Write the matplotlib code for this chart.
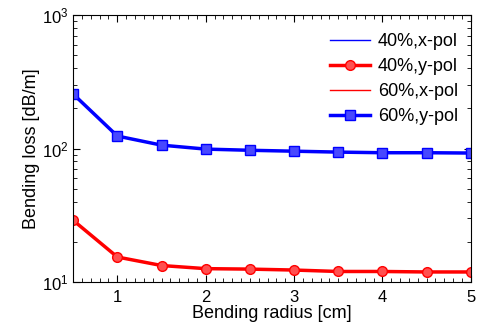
import matplotlib
matplotlib.use("Agg")
from matplotlib import pyplot as plt
from matplotlib.ticker import MultipleLocator

plt.rcParams['font.family'] = ['Liberation Sans', 'DejaVu Sans']
plt.rcParams['mathtext.fontset'] = 'custom'
plt.rcParams['mathtext.rm'] = 'Liberation Sans'

radius = [0.5, 1, 1.5, 2, 2.5, 3, 3.5, 4, 4.5, 5]
loss_40_y = [29, 15.4, 13.3, 12.6, 12.5, 12.3, 12.0, 12.0, 11.9, 11.9]
loss_60_y = [256, 124, 106, 99, 97, 95.5, 94, 93, 93, 92.5]

fig = plt.figure(figsize=(4.78, 3.33), dpi=100)
ax = fig.add_axes([0.153, 0.153, 0.832, 0.802])

ax.plot([], [], color='b', lw=1, label='40%,x-pol')
ax.plot(radius, loss_40_y, color='r', lw=2.5, marker='o', ms=7,
        markerfacecolor='#ff5050', label='40%,y-pol')
ax.plot([], [], color='r', lw=1, label='60%,x-pol')
ax.plot(radius, loss_60_y, color='b', lw=2.5, marker='s', ms=7,
        markerfacecolor='#4848ff', label='60%,y-pol')

ax.set_yscale('log')
ax.set_xlim(0.5, 5)
ax.set_ylim(10, 1000)
ax.xaxis.set_major_locator(MultipleLocator(1))
ax.xaxis.set_minor_locator(MultipleLocator(0.1))
ax.tick_params(which='both', direction='in', top=True, right=True, labelsize=12)
ax.tick_params(axis='x', which='both', pad=6)
ax.tick_params(which='major', length=5)
ax.tick_params(which='minor', length=3)
ax.set_xlabel('Bending radius [cm]', fontsize=13, labelpad=0)
ax.set_ylabel('Bending loss [dB/m]', fontsize=13, labelpad=1)
ax.legend(loc='upper right', frameon=False, fontsize=13, handlelength=2.2,
          labelspacing=0.45, handletextpad=0.45, borderaxespad=0.3,
          bbox_to_anchor=(1.0, 0.98))

fig.savefig('out.png', dpi=100)
